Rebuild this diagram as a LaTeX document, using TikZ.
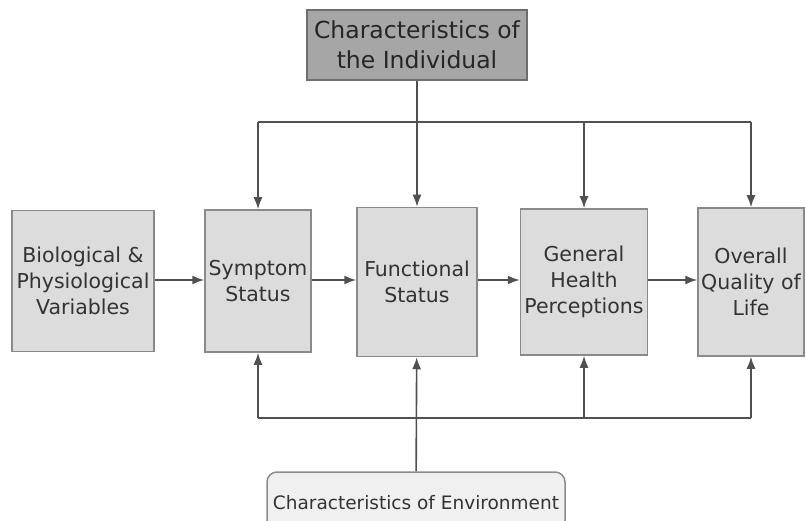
\documentclass[tikz,border=0pt]{standalone}
\usepackage{fontspec}
\setmainfont{DejaVu Sans}
\usetikzlibrary{arrows.meta}
\definecolor{boxfill}{HTML}{DCDCDC}
\definecolor{boxdraw}{HTML}{8A8A8A}
\definecolor{topfill}{HTML}{A6A6A6}
\definecolor{envfill}{HTML}{F0F0F0}
\definecolor{linecol}{HTML}{505050}
\begin{document}
\begin{tikzpicture}[x=1pt,y=-1pt,
  stagebox/.style={draw=boxdraw,fill=boxfill,line width=1.5pt,inner sep=0pt,align=center,
    font=\fontsize{20.5}{26}\selectfont,text=black!80},
  link/.style={draw=linecol,line width=1.6pt},
  arr/.style={link,-{Latex[length=12pt,width=9pt]}}]
\useasboundingbox (0,0) rectangle (806,521);
\node[draw=boxdraw!80!black,fill=topfill,line width=1.5pt,inner sep=0pt,align=center,
  minimum width=220pt,minimum height=70pt,font=\fontsize{23.5}{30}\selectfont,text=black!85]
  (indiv) at (417,45) {Characteristics of\\the Individual};
\node[stagebox,minimum width=142pt,minimum height=141pt] (bio) at (83,281) {Biological \&\\Physiological\\Variables};
\node[stagebox,minimum width=106pt,minimum height=142pt] (symp) at (258,281) {Symptom\\Status};
\node[stagebox,minimum width=120pt,minimum height=149pt] (func) at (417,282) {Functional\\Status};
\node[stagebox,minimum width=127pt,minimum height=146pt] (gen) at (584,282) {General\\Health\\Perceptions};
\node[stagebox,minimum width=106pt,minimum height=148pt] (qol) at (751,282) {Overall\\Quality of\\Life};
\node[draw=boxdraw,fill=envfill,rounded corners=10pt,line width=1.5pt,inner sep=0pt,
  minimum width=298pt,minimum height=62pt,font=\fontsize{18.5}{22}\selectfont,text=black!80]
  (env) at (416,503) {Characteristics of Environment};
% top distribution line
\coordinate (t1) at (258,122);
\coordinate (t3) at (584,122);
\coordinate (t4) at (751,122);
\draw[link] (t1) -- (t4);
\draw[arr] (indiv) -- (func);
\draw[arr] (t1) -- (symp.north);
\draw[arr] (t3) -- (gen.north);
\draw[arr] (t4) -- (qol.north);
% bottom distribution line
\coordinate (b1) at (258,418);
\coordinate (b3) at (584,418);
\coordinate (b4) at (751,418);
\draw[link] (b1) -- (b4);
\draw[arr] (env) -- (func);
\draw[arr] (b1) -- (symp.south);
\draw[arr] (b3) -- (gen.south);
\draw[arr] (b4) -- (qol.south);
% main chain
\draw[arr] (bio.east |- 0,280) -- (symp.west |- 0,280);
\draw[arr] (symp.east |- 0,280) -- (func.west |- 0,280);
\draw[arr] (func.east |- 0,280) -- (gen.west |- 0,280);
\draw[arr] (gen.east |- 0,280) -- (qol.west |- 0,280);
\end{tikzpicture}
\end{document}
